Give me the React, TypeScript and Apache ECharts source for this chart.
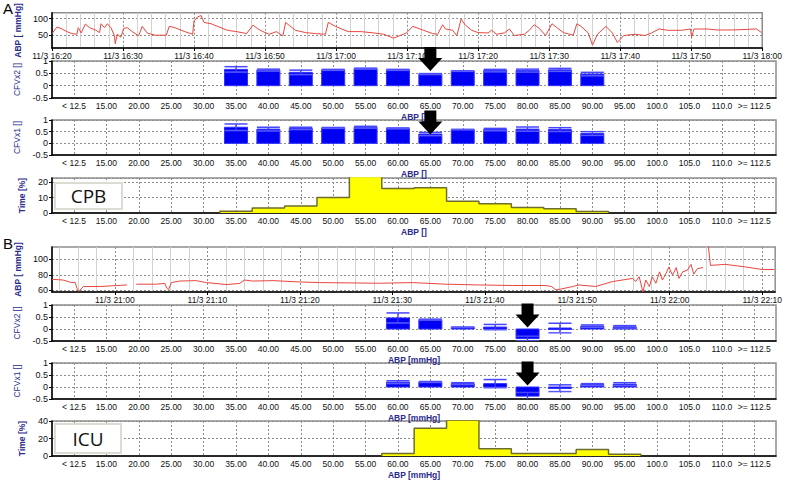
import React, { useEffect, useRef } from 'react';
import * as echarts from 'echarts';

// ---------- Panel A : ABP trace (minutes after 11/3 16:20, mmHg)
const abpA_t = [0,0.7,1.4,2.1,2.8,3.5,3.7,4.1,4.7,5.3,6.2,6.7,6.9,7.4,7.8,8.3,8.8,8.9,9.2,9.7,10.1,10.6,11.3,12.2,12.7,13.4,14.5,16.1,16.5,17.3,18.7,19.8,20.0,20.5,21.0,21.4,22.4,23.3,24.7,26.0,27.4,28.3,29.0,29.7,30.6,31.6,32.5,32.9,33.4,34.3,35.7,37.1,38.5,38.9,39.9,41.7,43.5,45.3,46.7,48.1,49.0,49.9,50.8,52.2,53.6,54.3,55.0,55.4,56.4,57.0,57.6,58.2,59.1,60.0,61.4,61.9,62.6,63.7,64.4,65.1,66.5,67.2,67.9,68.6,69.5,70.4,71.1,72.0,73.4,73.9,74.5,75.5,76.1,76.8,78.0,78.9,79.6,80.5,82.1,83.5,84.4,85.5,86.7,88.6,89.9,90.05,90.4,92.3,93.6,95.9,99.2,99.9];
const abpA_v = [54,74,68,60,54,52,72,56,83,72,64,57,84,72,84,72,47,23,52,43,70,72,60,47,76,56,49,49,76,72,60,52,93,105,109,88,84,76,64,60,54,80,68,60,52,60,47,88,79,64,57,54,52,88,76,60,60,56,52,40,48,56,76,65,54,52,81,68,64,47,98,80,64,57,56,64,52,56,68,48,52,64,81,70,48,84,72,57,49,84,76,56,19,52,76,56,27,48,52,48,56,68,64,64,68,43,68,68,65,65,68,57];

// ---------- Panel B : ABP trace (minutes after 11/3 21:00, mmHg), null = gap
const abpB_t = [-6.8,-5.6,-4.7,-4.3,-4.1,-3.9,-3.4,-1.6,0.2,1.3,1.8,2.3,4.5,5.4,5.6,5.8,6.1,7.0,8.8,9.9,12.1,13.5,14.0,14.9,17.1,20.0,22.1,25.4,28.6,32.2,35.8,39.4,43.0,46.6,47.2,47.7,48.2,49.5,50.2,52.0,53.8,56.0,56.3,56.7,57.1,57.4,57.8,58.1,58.5,58.9,59.2,59.6,59.9,60.3,60.7,61.0,61.4,61.9,62.3,62.6,63.0,63.6,63.85,64.1,64.4,66.0,68.2,70.0,71.3];
const abpB_v = [74.2,73.3,70,70.4,62.9,58.8,65,65,66.3,67,null,68,68,69,63,60.8,70,72,72.5,70,67.5,69,73.3,72,72.5,70.8,70,69.6,69.2,70,68,67,66.3,66.3,65,60.8,61.7,65,67,65,71.3,75.4,71.3,77.5,58,73.3,65,77.5,69.2,83.8,73.3,81.7,90,79.6,89.2,75.4,83.8,85.8,93.3,80.8,87.9,89.2,null,125,92,93.3,90,86.7,86.7];

// ---------- ABP bins (category tick labels)
const abpBins = ['< 12.5','15.00','20.00','25.00','30.00','35.00','40.00','45.00','50.00','55.00','60.00','65.00','70.00','75.00','80.00','85.00','90.00','95.00','100.0','105.0','110.0','>= 112.5'];

// ---------- CFV per bin (bin index, mean, sd)
const cfvA_bins = [5,6,7,8,9,10,11,12,13,14,15,16];
const cfvx2A_mean = [0.66,0.63,0.54,0.64,0.69,0.64,0.47,0.59,0.61,0.61,0.64,0.47];
const cfvx2A_sd = [0.11,0.04,0.09,0.02,0.02,0.02,0.02,0.01,0.05,0.06,0.06,0.07];
const cfvx1A_mean = [0.69,0.61,0.64,0.66,0.69,0.64,0.40,0.59,0.59,0.61,0.59,0.42];
const cfvx1A_sd = [0.14,0.08,0.05,0.02,0.04,0.02,0.07,0.01,0.05,0.09,0.08,0.08];

const cfvB_bins = [10,11,12,13,14,15,16,17];
const cfvx2B_mean = [0.46,0.39,0.07,0.08,-0.40,0.04,0.12,0.09];
const cfvx2B_sd = [0.21,0.02,0.01,0.11,0.10,0.20,0.05,0.05];
const cfvx1B_mean = [0.20,0.21,0.14,0.14,-0.38,-0.05,0.10,0.12];
const cfvx1B_sd = [0.06,0.02,0.04,0.17,0.15,0.14,0.04,0.06];

// ---------- Time spent per bin [%]
const timeA_bins = [5,6,7,8,9,10,11,12,13,14,15,16];
const timeA_pct = [1.1,3.3,4.6,10,28,15.8,16.3,7.6,5.9,3.5,2.8,0.9];
const timeB_bins = [10,11,12,13,14,15,16,17];
const timeB_pct = [3.0,31.8,41,8.2,3.0,3.0,7.5,1.9];

// ---------- arrow annotations [bin index, CFV value]
const arrowA2 = [11, 1.08];
const arrowA3 = [11, 0.89];
const arrowB2 = [14, 0.56];
const arrowB3 = [14, 0.56];

const NAVY = '#2b2b8c';
const FONT = 'Liberation Sans';
const L = 52;
const W = 724;
const grids = [
  { top: 5, height: 43 },
  { top: 61, height: 37 },
  { top: 120, height: 35 },
  { top: 178, height: 35 },
  { top: 247, height: 45 },
  { top: 305, height: 36 },
  { top: 363, height: 36 },
  { top: 421, height: 36 },
];

const binIdx = abpBins.map((_, i) => i);
const majorB = [0, 10, 20, 30, 40, 50, 60, 70];
const minorB: number[] = [];
for (let i = -3; i <= 35; i++) {
  const v = i * 2;
  if (v % 10 !== 0 && v > -6.8 && v < 71.4) minorB.push(v);
}

function fmtTime(base: number, v: number) {
  const t = Math.round(base + v);
  const h = Math.floor(t / 60);
  const m = t % 60;
  return `11/3 ${h}:${String(m).padStart(2, '0')}`;
}

function zip(a: number[], b: (number | null)[]) {
  return a.map((x, i) => [x, b[i] === null ? '-' : b[i]]);
}

function cfvData(bins: number[], mean: number[], sd: number[]) {
  return bins.map((b, i) => [b, mean[i], sd[i]]);
}

function stepData(bins: number[], vals: number[]) {
  const pts: number[][] = [[bins[0] - 0.5, 0]];
  bins.forEach((b, i) => {
    pts.push([b - 0.5, vals[i]]);
    pts.push([b + 0.5, vals[i]]);
  });
  pts.push([bins[bins.length - 1] + 0.5, 0]);
  return pts;
}

const cfvRender = (params: any, api: any) => {
  const k = api.value(0);
  const m = api.value(1);
  const s = api.value(2);
  const w = api.size([0.71, 0])[0];
  const p0 = api.coord([k, 0]);
  const pm = api.coord([k, m]);
  const pt = api.coord([k, m + s]);
  const pb = api.coord([k, m - s]);
  const x0 = p0[0] - w / 2;
  const top = Math.min(p0[1], pm[1]);
  const h = Math.max(Math.abs(p0[1] - pm[1]), 1.5);
  return {
    type: 'group',
    children: [
      { type: 'rect', shape: { x: x0, y: top, width: w, height: h }, style: { fill: '#0000f2', stroke: '#3030ff', lineWidth: 1 } },
      { type: 'line', shape: { x1: p0[0], y1: pt[1], x2: p0[0], y2: pb[1] }, style: { stroke: '#3a3aff', lineWidth: 1.3 } },
      { type: 'line', shape: { x1: x0, y1: pt[1], x2: x0 + w, y2: pt[1] }, style: { stroke: '#4646ff', lineWidth: 1.5 } },
      { type: 'line', shape: { x1: x0, y1: pb[1], x2: x0 + w, y2: pb[1] }, style: { stroke: '#5a5aff', lineWidth: 1.5 } },
    ],
  };
};

const ARROW = 'path://M6,0 L18,0 L18,11 L24,11 L12,24 L0,11 L6,11 Z';

const axisLineBlack = { show: true, onZero: false, lineStyle: { color: '#000', width: 1.5 } };
const dashSplit = { show: true, lineStyle: { color: '#8c8c8c', type: [2, 2] as any, width: 1 } };
const xLabel = { fontSize: 8.5, color: '#111', fontFamily: FONT, margin: 3, showMinLabel: true, showMaxLabel: true, hideOverlap: false };
const yLabel = { fontSize: 9, color: '#111', fontFamily: FONT, margin: 4 };
const yName = (name: string, bold: boolean) => ({
  name,
  nameLocation: 'middle',
  nameGap: 26,
  nameTextStyle: { color: NAVY, fontSize: 8.5, fontWeight: bold ? 'bold' : 'normal', fontFamily: FONT },
});

function binAxis(gridIndex: number, name: string) {
  return {
    type: 'value',
    gridIndex,
    min: -0.68,
    max: 21.67,
    axisLine: axisLineBlack,
    axisTick: { show: false, customValues: binIdx },
    axisLabel: { ...xLabel, customValues: binIdx, formatter: (v: number) => abpBins[Math.round(v)] },
    splitLine: dashSplit,
    name,
    nameLocation: 'middle',
    nameGap: 14,
    nameTextStyle: { color: NAVY, fontSize: 8.5, fontWeight: 'bold', fontFamily: FONT },
  };
}

function cfvYAxis(gridIndex: number, name: string) {
  return {
    type: 'value',
    gridIndex,
    min: -0.5,
    max: 1,
    interval: 0.5,
    axisLine: axisLineBlack,
    axisTick: { show: true, length: 3, lineStyle: { color: '#000' } },
    axisLabel: yLabel,
    splitLine: dashSplit,
    ...yName(name, false),
  };
}

function arrowSeries(x: number, y: number, coord: number[]) {
  return {
    type: 'scatter',
    xAxisIndex: x,
    yAxisIndex: y,
    data: [coord],
    symbol: ARROW,
    symbolSize: [24, 24],
    itemStyle: { color: '#000', opacity: 1 },
    clip: false,
    silent: true,
    z: 20,
  };
}

export default function App() {
  const ref = useRef<HTMLDivElement>(null);
  useEffect(() => {
    if (!ref.current) return;
    const chart = echarts.init(ref.current, null, { renderer: 'svg' });
    const option: any = {
      animation: false,
      backgroundColor: '#fff',
      textStyle: { fontFamily: FONT },
      grid: grids.map((g) => ({
        left: L, width: W, top: g.top, height: g.height,
        show: true, borderColor: '#8f8f8f', borderWidth: 1.5, backgroundColor: '#fff',
      })),
      xAxis: [
        {
          type: 'value', gridIndex: 0, min: 0, max: 100, interval: 10,
          axisLine: axisLineBlack,
          axisTick: { show: true, length: 3, lineStyle: { color: '#000' } },
          axisLabel: { ...xLabel, formatter: (v: number) => fmtTime(980, v) },
          splitLine: dashSplit,
          minorTick: { show: false, splitNumber: 5 },
          minorSplitLine: { show: true, lineStyle: { color: '#d2d2d2', width: 1 } },
        },
        binAxis(1, 'ABP []'),
        binAxis(2, 'ABP []'),
        binAxis(3, 'ABP []'),
        {
          type: 'value', gridIndex: 4, min: -6.8, max: 71.4,
          axisLine: axisLineBlack,
          axisTick: { show: true, length: 3, customValues: majorB, lineStyle: { color: '#000' } },
          axisLabel: { ...xLabel, customValues: majorB, formatter: (v: number) => fmtTime(1260, v) },
          splitLine: dashSplit,
        },
        binAxis(5, 'ABP [mmHg]'),
        binAxis(6, 'ABP [mmHg]'),
        binAxis(7, 'ABP [mmHg]'),
        {
          type: 'value', gridIndex: 4, min: -6.8, max: 71.4, position: 'top',
          axisLine: { show: false, onZero: false },
          axisTick: { show: false, customValues: minorB },
          axisLabel: { show: false },
          splitLine: { show: true, lineStyle: { color: '#d2d2d2', width: 1 } },
          z: 0,
        },
      ],
      yAxis: [
        {
          type: 'value', gridIndex: 0, min: 10, max: 117.5,
          axisLine: axisLineBlack,
          axisTick: { show: true, length: 3, customValues: [50, 100], lineStyle: { color: '#000' } },
          axisLabel: { ...yLabel, customValues: [50, 100] },
          splitLine: dashSplit,
          ...yName('ABP [ mmHg]', true),
        },
        cfvYAxis(1, 'CFVx2 []'),
        cfvYAxis(2, 'CFVx1 []'),
        {
          type: 'value', gridIndex: 3, min: 0, max: 22.6, interval: 10,
          axisLine: axisLineBlack,
          axisTick: { show: true, length: 3, lineStyle: { color: '#000' } },
          axisLabel: yLabel,
          splitLine: dashSplit,
          ...yName('Time [%]', true),
        },
        {
          type: 'value', gridIndex: 4, min: 58, max: 115.5,
          axisLine: axisLineBlack,
          axisTick: { show: true, length: 3, customValues: [60, 80, 100], lineStyle: { color: '#000' } },
          axisLabel: { ...yLabel, customValues: [60, 80, 100] },
          splitLine: dashSplit,
          ...yName('ABP [ mmHg]', true),
        },
        cfvYAxis(5, 'CFVx2 []'),
        cfvYAxis(6, 'CFVx1 []'),
        {
          type: 'value', gridIndex: 7, min: 0, max: 40, interval: 20,
          axisLine: axisLineBlack,
          axisTick: { show: true, length: 3, lineStyle: { color: '#000' } },
          axisLabel: yLabel,
          splitLine: dashSplit,
          ...yName('Time [%]', true),
        },
      ],
      series: [
        {
          type: 'line', xAxisIndex: 0, yAxisIndex: 0, data: zip(abpA_t, abpA_v),
          showSymbol: false, lineStyle: { color: '#e8463e', width: 1 }, silent: true,
        },
        { type: 'custom', xAxisIndex: 1, yAxisIndex: 1, data: cfvData(cfvA_bins, cfvx2A_mean, cfvx2A_sd), renderItem: cfvRender, encode: { x: 0, y: 1 }, clip: true },
        { type: 'custom', xAxisIndex: 2, yAxisIndex: 2, data: cfvData(cfvA_bins, cfvx1A_mean, cfvx1A_sd), renderItem: cfvRender, encode: { x: 0, y: 1 }, clip: true },
        {
          type: 'line', xAxisIndex: 3, yAxisIndex: 3, data: stepData(timeA_bins, timeA_pct),
          showSymbol: false, lineStyle: { color: '#6e6e2c', width: 1.5 }, areaStyle: { color: '#ffff00', opacity: 1 }, clip: true, silent: true,
        },
        {
          type: 'line', xAxisIndex: 4, yAxisIndex: 4, data: zip(abpB_t, abpB_v),
          showSymbol: false, connectNulls: false, lineStyle: { color: '#e8463e', width: 1 }, clip: true, silent: true,
        },
        { type: 'custom', xAxisIndex: 5, yAxisIndex: 5, data: cfvData(cfvB_bins, cfvx2B_mean, cfvx2B_sd), renderItem: cfvRender, encode: { x: 0, y: 1 }, clip: true },
        { type: 'custom', xAxisIndex: 6, yAxisIndex: 6, data: cfvData(cfvB_bins, cfvx1B_mean, cfvx1B_sd), renderItem: cfvRender, encode: { x: 0, y: 1 }, clip: true },
        {
          type: 'line', xAxisIndex: 7, yAxisIndex: 7, data: stepData(timeB_bins, timeB_pct),
          showSymbol: false, lineStyle: { color: '#6e6e2c', width: 1.5 }, areaStyle: { color: '#ffff00', opacity: 1 }, clip: true, silent: true,
        },
        arrowSeries(1, 1, arrowA2),
        arrowSeries(2, 2, arrowA3),
        arrowSeries(5, 5, arrowB2),
        arrowSeries(6, 6, arrowB3),
      ],
      graphic: [
        { type: 'text', left: 3, top: 1, style: { text: 'A', fontSize: 15, fill: '#000', fontFamily: FONT } },
        { type: 'text', left: 3, top: 236, style: { text: 'B', fontSize: 15, fill: '#000', fontFamily: FONT } },
        { type: 'rect', shape: { x: 55, y: 183, width: 67, height: 26 }, style: { fill: '#fff', stroke: '#dcdcd2', lineWidth: 2 }, z: 30 },
        { type: 'text', x: 88.5, y: 196, style: { text: 'CPB', fontSize: 19, fill: '#111', fontFamily: 'Open Sans', align: 'center', verticalAlign: 'middle' }, z: 31 },
        { type: 'rect', shape: { x: 55, y: 424, width: 66, height: 29 }, style: { fill: '#fff', stroke: '#dcdcd2', lineWidth: 2 }, z: 30 },
        { type: 'text', x: 88, y: 439, style: { text: 'ICU', fontSize: 19, fill: '#111', fontFamily: 'Open Sans', align: 'center', verticalAlign: 'middle' }, z: 31 },
      ],
    };
    chart.setOption(option);
    return () => chart.dispose();
  }, []);
  return <div ref={ref} style={{ position: 'fixed', left: 0, top: 0, width: 785, height: 480 }} />;
}
